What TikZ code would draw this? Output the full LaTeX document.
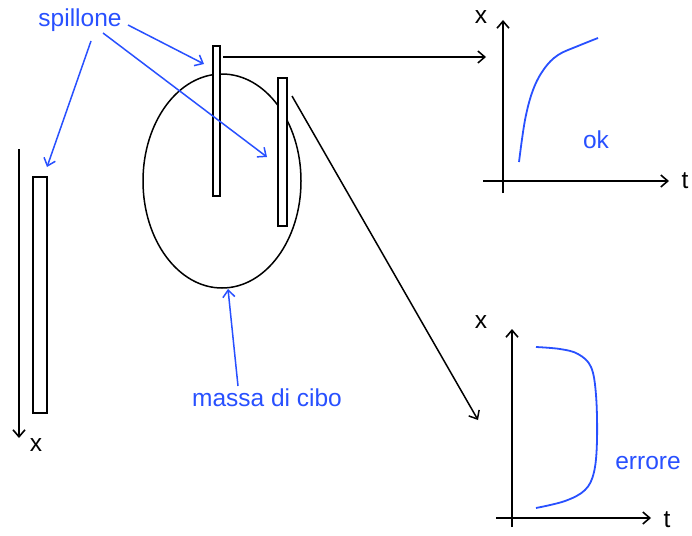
\documentclass[tikz,border=0pt]{standalone}
\usepackage{fontspec}
\setmainfont{Liberation Sans}
\usetikzlibrary{arrows.meta,shapes.geometric}
\definecolor{myblue}{RGB}{40,80,255}
\tikzset{
  lbl/.style={font=\fontsize{24.5}{28}\selectfont, inner sep=0pt},
  bluelbl/.style={lbl, text=myblue},
  pin/.style={draw, line width=1.8pt, inner sep=0pt, fill=white, minimum width=#1},
  pin/.default=7pt,
  blk/.style={line width=1.5pt, -{Straight Barb[length=7pt,width=12pt,line width=1.5pt]}},
  blu/.style={myblue, line width=1.5pt, -{Straight Barb[length=7pt,width=12pt,line width=1.5pt]}},
  axis/.style={line width=1.6pt, -{Straight Barb[length=7pt,width=12pt,line width=1.6pt]}},
  curve/.style={myblue, line width=1.8pt}
}
\begin{document}
\begin{tikzpicture}[x=1pt,y=-1pt]
\useasboundingbox (0,0) rectangle (692,535);
% food mass
\node[ellipse, draw, line width=1.5pt, minimum width=158pt, minimum height=214pt, inner sep=0pt] (mass) at (222,181) {};
% pins
\node[pin=14pt, minimum height=236pt] (pin0) at (40,295) {};
\node[pin=7pt, minimum height=150pt] (pin1) at (216.5,121) {};
\node[pin=9pt, minimum height=148pt] (pin2) at (282.5,152) {};
% left axis
\coordinate (lx0) at (19,149);
\coordinate (lx1) at (19,438);
\draw[axis] (lx0) -- (lx1);
\node[lbl] (lxl) at (36,445) {x};
% labels
\node[bluelbl] (spill) at (80,20) {spillone};
\node[bluelbl] (massl) at (267,398) {massa di cibo};
% blue arrows
\coordinate (s1) at (128,25);
\coordinate (s2) at (103,33);
\coordinate (s3) at (91,41);
\coordinate (t1) at (204,64);
\coordinate (t2) at (267,157);
\coordinate (t3) at (47,167);
\draw[blu] (s1) -- (t1);
\draw[blu] (s2) -- (t2);
\draw[blu] (s3) -- (t3);
\coordinate (m0) at (238,386);
\coordinate (m1) at (228,289);
\draw[blu] (m0) -- (m1);
% black arrows to graphs
\coordinate (h0) at (223,57);
\coordinate (h1) at (486,57);
\draw[blk] (h0) -- (h1);
\coordinate (d0) at (292,96);
\coordinate (d1) at (478,420);
\draw[blk] (d0) -- (d1);
% top graph
\coordinate (ty0) at (503,193);
\coordinate (ty1) at (503,20);
\coordinate (tx0) at (483,181);
\coordinate (tx1) at (669,181);
\draw[axis] (ty0) -- (ty1);
\draw[axis] (tx0) -- (tx1);
\node[lbl] (txl) at (481,17) {x};
\node[lbl] (ttl) at (685,181) {t};
\draw[curve] plot[smooth, tension=0.6] coordinates {(519,162) (525,120) (533,90) (544,69) (558,55) (578,46) (598,38)};
\node[bluelbl] (ok) at (596,140) {ok};
% bottom graph
\coordinate (by0) at (512,527);
\coordinate (by1) at (512,329);
\coordinate (bx0) at (496,518);
\coordinate (bx1) at (651,518);
\draw[axis] (by0) -- (by1);
\draw[axis] (bx0) -- (bx1);
\node[lbl] (bxl) at (481,322) {x};
\node[lbl] (btl) at (667,520) {t};
\draw[curve] plot[smooth, tension=0.6] coordinates {(536,347) (560,349) (578,354) (591,367) (596,395) (597,440) (594,472) (585,490) (565,501) (536,508)};
\node[bluelbl] (err) at (648,463) {errore};
\end{tikzpicture}
\end{document}
